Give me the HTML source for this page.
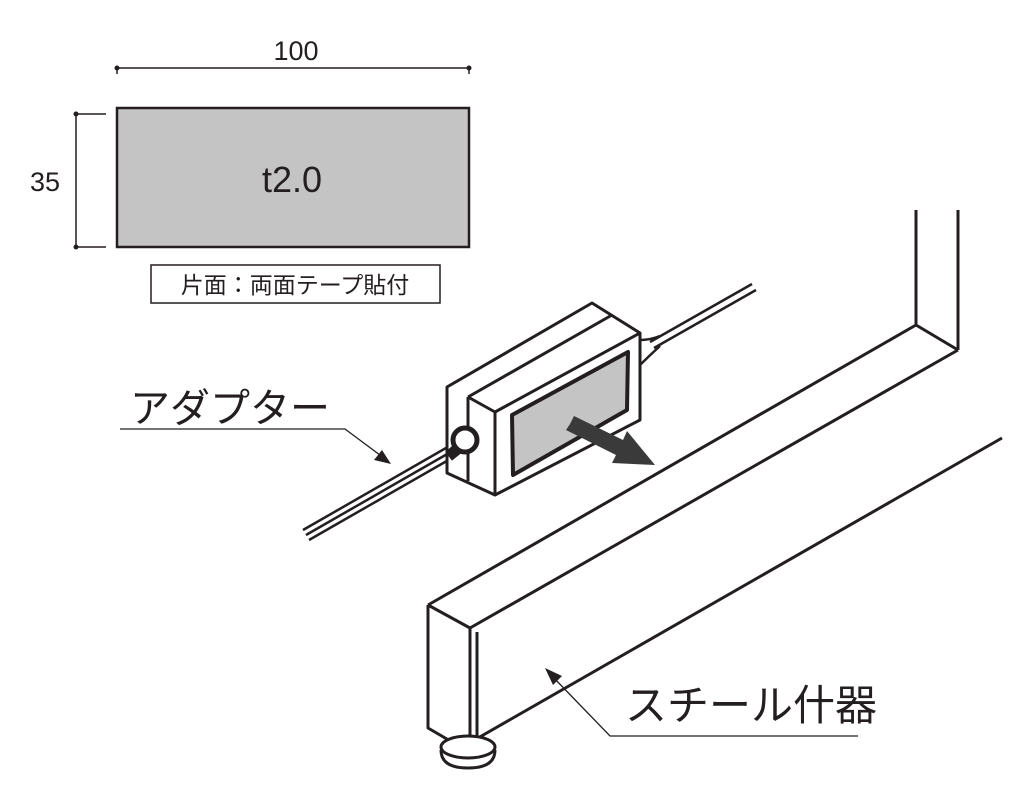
<!DOCTYPE html>
<html><head><meta charset="utf-8"><style>
html,body{margin:0;padding:0;background:#fff}
svg{display:block}
text{font-family:"Liberation Sans","Noto Sans CJK JP",sans-serif;fill:#231f20}
</style></head><body>
<svg width="1031" height="791" viewBox="0 0 1031 791" xmlns="http://www.w3.org/2000/svg">
<g stroke="#231f20" fill="none" stroke-width="1.5">
 <line x1="117" y1="68" x2="469" y2="68"/>
 <line x1="117" y1="68" x2="117" y2="74"/><line x1="469" y1="68" x2="469" y2="74"/>
 <line x1="76" y1="114" x2="76" y2="247"/>
 <line x1="76" y1="114" x2="106" y2="114"/><line x1="76" y1="247" x2="106" y2="247"/>
</g>
<g fill="#231f20"><circle cx="117" cy="68" r="2.5"/><circle cx="469" cy="68" r="2.5"/><circle cx="76" cy="114" r="2.5"/><circle cx="76" cy="247" r="2.5"/></g>
<rect x="117" y="108" width="352" height="139" fill="#c4c4c4" stroke="#231f20" stroke-width="2.5"/>
<text x="296" y="60" font-size="27" text-anchor="middle">100</text>
<text x="45" y="191" font-size="27" text-anchor="middle">35</text>
<text x="292" y="192" font-size="36" text-anchor="middle">t2.0</text>
<rect x="151" y="265" width="289" height="38" fill="none" stroke="#231f20" stroke-width="1.5"/>
<text x="295" y="293" font-size="23" text-anchor="middle">片面：両面テープ貼付</text>

<g stroke="#231f20" fill="none" stroke-width="3" stroke-linejoin="round">
 <!-- frame -->
 <line x1="916" y1="210" x2="916" y2="325"/>
 <line x1="958" y1="210" x2="958" y2="350"/>
 <line x1="916" y1="325" x2="958" y2="350"/>
 <line x1="916" y1="325" x2="428" y2="605"/>
 <line x1="958" y1="350" x2="470" y2="628"/>
 <line x1="1002" y1="438" x2="478" y2="738"/>
 <!-- leg -->
 <path d="M428 605 L470 628 L470 745 M428 605 L428 728 L452 742"/>
 <line x1="477" y1="632" x2="477" y2="742"/>
 <ellipse cx="468" cy="747" rx="27" ry="11" fill="#fff"/>
 <path d="M441 750 Q441 768 468 768 Q495 768 495 750"/>
 <!-- cables -->
 <line x1="446" y1="448" x2="303" y2="530" stroke-width="2.5"/>
 <line x1="449" y1="453" x2="306" y2="535" stroke-width="2.5"/>
 <line x1="452" y1="458" x2="309" y2="540" stroke-width="2.5"/>
 <line x1="650" y1="342" x2="752" y2="284" stroke-width="2.5"/>
 <line x1="654" y1="348" x2="756" y2="290" stroke-width="2.5"/>
 <path d="M640 340 Q650 340 660 336 M640 365 Q650 355 660 346" stroke-width="2.5"/>
 <!-- box -->
 <path d="M447 387 L592 303 L640 333 L640 420 L495 495 L447 473 Z" fill="#fff"/>
 <path d="M468 397 L612 315 M468 397 L495 412 L640 333 M495 412 L495 495 M468 397 L468 481"/>
 <path d="M512 415 L628 352 L627 410 L513 475 Z" fill="#c4c4c4" stroke-width="4"/>
 <circle cx="465" cy="440" r="12" fill="#fff" stroke-width="5"/>
 <path d="M455 444 L446 452 L452 460 L462 452 Z" fill="#231f20" stroke-width="1"/>
</g>
<!-- arrow -->
<polygon points="570,424 574,416 623,440 627,431 655,465 612,463 616,455 566,430" fill="#3a3a3a"/>
<!-- leaders -->
<g stroke="#231f20" fill="none" stroke-width="1.3">
 <polyline points="120,429 345,429 384,458"/>
 <polyline points="858,736 610,736 552,676"/>
</g>
<polygon points="391,464 374,460 382,450" fill="#231f20"/>
<polygon points="545,668 562,676 553,685" fill="#231f20"/>
<text x="130" y="422" font-size="40">アダプター</text>
<text x="625" y="720" font-size="42">スチール什器</text>
</svg>
</body></html>
